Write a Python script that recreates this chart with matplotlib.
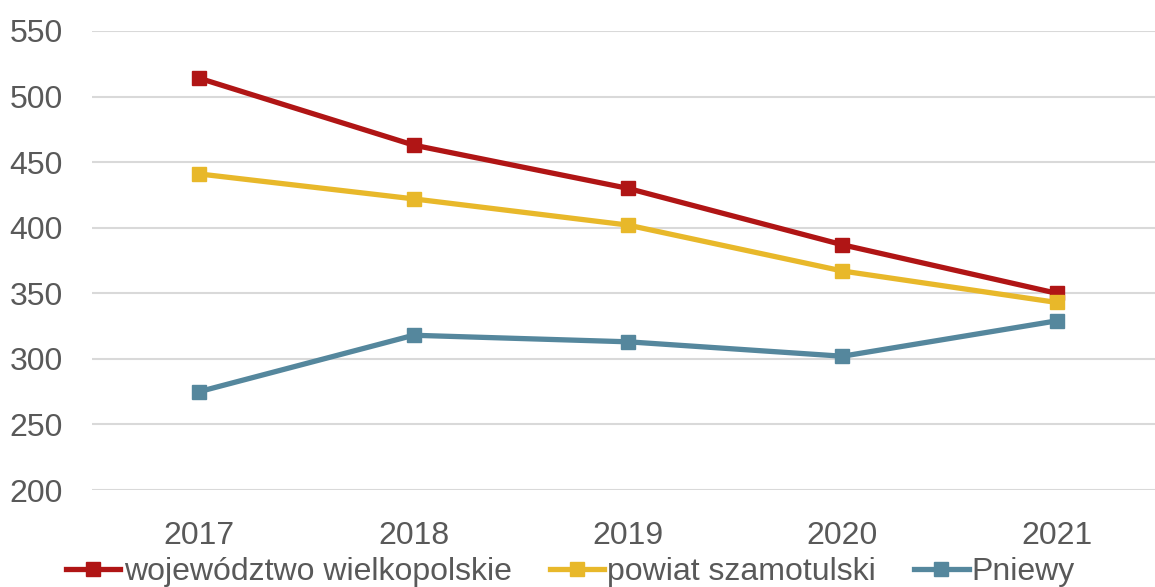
import matplotlib.pyplot as plt

years = ['2017', '2018', '2019', '2020', '2021']
wojewodztwo = [514, 463, 430, 387, 350]
powiat = [441, 422, 402, 367, 343]
pniewy = [275, 318, 313, 302, 329]

plt.rcParams['font.family'] = ['Liberation Sans', 'DejaVu Sans']

fig = plt.figure(figsize=(11.55, 5.87), dpi=100)
ax = fig.add_axes([92 / 1155, 1 - 490 / 587, 1072 / 1155, 459 / 587])

x = range(len(years))
ax.plot(x, wojewodztwo, color='#b01515', lw=3.8, marker='s', ms=10,
        label='województwo wielkopolskie', zorder=3)
ax.plot(x, powiat, color='#e8b82a', lw=3.8, marker='s', ms=10,
        label='powiat szamotulski', zorder=3)
ax.plot(x, pniewy, color='#55879d', lw=3.8, marker='s', ms=10,
        label='Pniewy', zorder=3)

ax.set_xlim(-0.5, 4.5)
ax.set_ylim(200, 550)
ax.set_yticks(range(200, 551, 50))
ax.set_xticks(list(x))
ax.set_xticklabels(years)
ax.grid(axis='y', color='#d9d9d9', lw=1.5)
ax.set_axisbelow(True)
for s in ax.spines.values():
    s.set_visible(False)
ax.tick_params(length=0, labelsize=23, labelcolor='#595959')
ax.tick_params(axis='x', pad=22)
ax.tick_params(axis='y', pad=21)

fig.legend(loc='center', bbox_to_anchor=(0.494, 0.026), ncol=3, frameon=False,
           fontsize=23, labelcolor='#595959', handlelength=1.7,
           handletextpad=0.1, columnspacing=1.2, borderpad=0)

fig.savefig('out.png', dpi=100)
